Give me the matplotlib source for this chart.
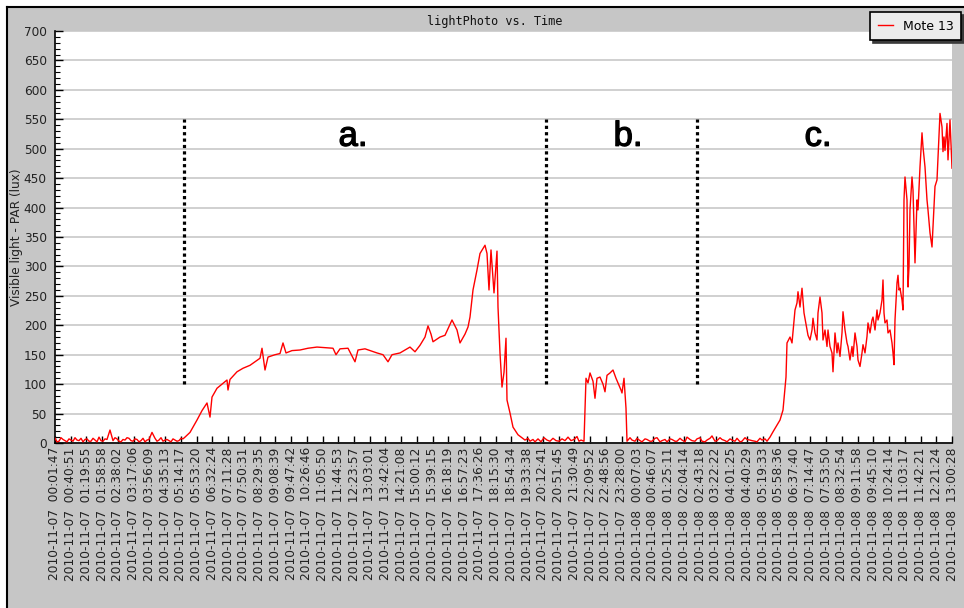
import matplotlib
matplotlib.use("Agg")
import matplotlib.pyplot as plt
import matplotlib.patheffects as pe
from matplotlib.patches import Rectangle
from matplotlib.lines import Line2D
import numpy as np

# tick labels (one every ~16 readings)
tick_labels = [
    "2010-11-07  00:01:47", "2010-11-07  00:40:51", "2010-11-07  01:19:55", "2010-11-07  01:58:58",
    "2010-11-07  02:38:02", "2010-11-07  03:17:06", "2010-11-07  03:56:09", "2010-11-07  04:35:13",
    "2010-11-07  05:14:17", "2010-11-07  05:53:20", "2010-11-07  06:32:24", "2010-11-07  07:11:28",
    "2010-11-07  07:50:31", "2010-11-07  08:29:35", "2010-11-07  09:08:39", "2010-11-07  09:47:42",
    "2010-11-07  10:26:46", "2010-11-07  11:05:50", "2010-11-07  11:44:53", "2010-11-07  12:23:57",
    "2010-11-07  13:03:01", "2010-11-07  13:42:04", "2010-11-07  14:21:08", "2010-11-07  15:00:12",
    "2010-11-07  15:39:15", "2010-11-07  16:18:19", "2010-11-07  16:57:23", "2010-11-07  17:36:26",
    "2010-11-07  18:15:30", "2010-11-07  18:54:34", "2010-11-07  19:33:38", "2010-11-07  20:12:41",
    "2010-11-07  20:51:45", "2010-11-07  21:30:49", "2010-11-07  22:09:52", "2010-11-07  22:48:56",
    "2010-11-07  23:28:00", "2010-11-08  00:07:03", "2010-11-08  00:46:07", "2010-11-08  01:25:11",
    "2010-11-08  02:04:14", "2010-11-08  02:43:18", "2010-11-08  03:22:22", "2010-11-08  04:01:25",
    "2010-11-08  04:40:29", "2010-11-08  05:19:33", "2010-11-08  05:58:36", "2010-11-08  06:37:40",
    "2010-11-08  07:14:47", "2010-11-08  07:53:50", "2010-11-08  08:32:54", "2010-11-08  09:11:58",
    "2010-11-08  09:45:10", "2010-11-08  10:24:14", "2010-11-08  11:03:17", "2010-11-08  11:42:21",
    "2010-11-08  12:21:24", "2010-11-08  13:00:28",
]
n_readings = 897

# reading number / light value (lux)
sample = [
    0, 2, 4, 6, 8, 10, 12, 14, 16, 18, 20, 22, 24, 26, 28, 30, 32, 34, 36, 38, 40, 42, 44, 46, 48, 50,
    52, 55, 58, 60, 62, 64, 66, 68, 70, 72, 74, 76, 78, 80, 82, 84, 86, 88, 90, 92, 94, 97,
    100, 102, 104, 106, 108, 110, 112, 114, 116, 118, 120, 122, 124, 126, 128,
    130, 135, 142, 147, 152, 155, 157, 162, 167, 172, 173, 175, 182, 188, 195, 200, 205, 207, 210, 213,
    220, 225, 228, 231, 237, 245, 253, 262, 270, 278, 281, 285, 293, 300, 303, 310, 317, 322, 328, 333,
    337, 345, 350, 355, 360, 365, 370, 373, 376, 378, 385, 390, 397, 402, 405, 410, 413, 415, 418, 422,
    425, 430, 432, 434, 436, 439, 442, 443, 445, 447, 449, 451, 452, 455, 458, 463, 470,
    473, 475, 478, 480, 483, 486, 489, 492, 495, 498, 501, 504, 507, 510, 513, 516, 519, 522, 524, 526, 529,
    531, 533, 535, 538, 540, 542, 545, 548, 550, 552, 555, 558, 561, 563, 566, 567, 569, 571, 572,
    575, 577, 580, 582, 585, 587, 590, 592, 595, 597, 600, 602, 605, 607, 610, 612, 615, 617, 620, 622,
    625, 627, 630, 632, 635, 637, 640, 642, 645, 647, 650, 652, 655, 657, 660, 662, 665, 667, 670, 672,
    675, 677, 680, 682, 685, 687, 690, 692, 695, 697, 700, 702, 705, 707, 710, 712,
    715, 718, 725, 728, 731, 732, 735, 737, 738, 740, 742, 743, 745, 747, 749, 752, 753, 755, 757, 758,
    760, 762, 763, 765, 767, 768, 770, 772, 773, 775, 777, 778, 780, 782, 783, 785, 787, 788, 790, 792,
    793, 795, 797, 798, 800, 802, 803, 805, 807, 808, 810, 812, 813, 815, 817, 818, 820, 822, 823, 825,
    827, 828, 829, 830, 832, 833, 835, 837, 838, 839, 840, 842, 843, 844, 845, 847, 848, 849, 850, 852,
    853, 854, 855, 857, 858, 860, 862, 863, 865, 867, 868, 870, 872, 873, 875, 877, 878, 880, 882, 883,
    885, 887, 888, 889, 890, 892, 893, 895, 897,
]
lux = [
    8, 2, 3, 9, 6, 4, 2, 7, 5, 3, 9, 5, 4, 8, 2, 6, 7, 3, 3, 8, 5, 2, 10, 4, 3, 7,
    6, 22, 4, 9, 7, 3, 2, 6, 5, 9, 8, 4, 3, 7, 6, 2, 4, 8, 2, 5, 6, 18,
    8, 3, 5, 9, 3, 5, 6, 4, 2, 7, 5, 3, 4, 8, 7,
    10, 18, 39, 55, 68, 44, 78, 93, 100, 107, 90, 108, 121, 127, 132, 138, 144, 161, 124, 146,
    150, 152, 170, 153, 157, 158, 161, 163, 162, 161, 150, 160, 161, 138, 158, 160, 156, 153, 150, 138,
    150, 153, 158, 163, 155, 166, 180, 199, 185, 172, 180, 183, 209, 192, 170, 185, 197, 214, 260, 294,
    322, 336, 322, 260, 328, 255, 326, 231, 153, 95, 120, 178, 73, 51, 27, 14, 5,
    8, 3, 6, 2, 7, 2, 9, 5, 3, 8, 4, 3, 7, 4, 10, 4, 6, 11, 3, 5, 3,
    110, 102, 119, 105, 76, 110, 112, 100, 87, 115, 119, 124, 110, 102, 90, 85, 110, 59, 3,
    9, 5, 3, 8, 4, 2, 7, 6, 3, 3, 8, 9, 2, 4, 6, 2, 7, 6, 3, 3,
    8, 5, 2, 10, 6, 4, 3, 7, 9, 3, 2, 5, 8, 12, 3, 4, 9, 6, 4, 2,
    7, 5, 3, 8, 2, 3, 9, 6, 5, 4, 3, 2, 8, 5, 7, 3,
    10, 19, 39, 56, 112, 170, 180, 170, 189, 226, 238, 257, 231, 263, 221, 192, 183, 175, 192, 212,
    187, 175, 221, 248, 221, 175, 192, 164, 192, 164, 153, 121, 187, 153, 170, 147, 187, 223, 192, 170,
    164, 141, 164, 147, 187, 164, 141, 130, 153, 167, 153, 181, 204, 187, 209, 214, 192, 226, 209, 221,
    243, 277, 221, 204, 209, 187, 192, 170, 153, 133, 209, 272, 285, 260, 263, 243, 226, 413, 452, 413,
    265, 299, 396, 452, 430, 306, 413, 396, 469, 527, 503, 469, 413, 396, 357, 333, 368, 436, 447, 486,
    560, 537, 495, 520, 497, 543, 481, 549, 467,
]

# phase boundaries and labels
boundaries = [129, 491, 642]
phase_names = ["a.", "b.", "c."]
phase_centers = [298, 573, 763]

W, H = 964, 608
gray = "#c6c6c6"
fig = plt.figure(figsize=(W / 100, H / 100), dpi=100)
fig.patch.set_facecolor("white")

# window frame
fig.patches.append(Rectangle((7 / W, 0), 1, 1 - 7 / H, transform=fig.transFigure,
                             facecolor=gray, edgecolor="none", zorder=-10))
fig.lines.append(Line2D([6.5 / W, 6.5 / W], [0, 1 - 6.5 / H], transform=fig.transFigure,
                        color="black", lw=1.5))
fig.lines.append(Line2D([6.5 / W, 1], [1 - 6.5 / H, 1 - 6.5 / H], transform=fig.transFigure,
                        color="black", lw=1.5))

ax = fig.add_axes([55 / W, 1 - 443 / H, 897 / W, 412 / H])
ax.set_facecolor("white")

ax.plot(sample, lux, color="red", lw=1.0, label="Mote 13", zorder=3)

for b in boundaries:
    ax.plot([b, b], [100, 550], color="black", lw=2.3, linestyle=(0, (1, 1)), zorder=4)
for name, c in zip(phase_names, phase_centers):
    ax.text(c, 505, name, fontsize=25, ha="center", va="baseline",
            family="Liberation Sans", color="black",
            path_effects=[pe.withStroke(linewidth=0.9, foreground="black")])

ax.set_xlim(0, n_readings)
ax.set_ylim(0, 700)
ax.set_yticks(np.arange(0, 701, 50))
ax.set_yticks(np.arange(0, 701, 10), minor=True)
ax.yaxis.grid(True, color="#c8c8c8", lw=1.2)
ax.set_axisbelow(True)
ax.set_xticks(np.linspace(0, n_readings, len(tick_labels)))
ax.set_xticklabels(tick_labels, rotation=90, fontsize=8.8, color="#222222")
for t in ax.get_yticklabels():
    t.set_fontsize(8.7)
    t.set_color("#222222")

ax.tick_params(axis="y", which="major", direction="in", length=6, width=1, pad=6)
ax.tick_params(axis="y", which="minor", direction="in", length=3.5, width=0.8)
ax.tick_params(axis="x", which="major", direction="in", length=5, width=1, pad=3)
ax.spines["top"].set_visible(False)
ax.spines["right"].set_visible(False)
ax.spines["left"].set_linewidth(1.2)
ax.spines["bottom"].set_linewidth(1.2)

fig.text(495 / W, 1 - 22 / H, "lightPhoto vs. Time", family="DejaVu Sans Mono",
         fontsize=8.6, ha="center", va="center", color="#111111")
fig.text(17 / W, 1 - 237 / H, "Visible light - PAR (lux)", rotation=90,
         fontsize=8.7, ha="center", va="center", color="#222222")

leg = ax.legend(loc="upper right", bbox_to_anchor=(961 / W, 1 - 12 / H),
                bbox_transform=fig.transFigure, borderaxespad=0, fancybox=False,
                shadow={"color": "#3a3a3a", "alpha": 1, "ox": 2, "oy": -2}, edgecolor="black",
                facecolor="#ececec", framealpha=1, handlelength=1.2, fontsize=9,
                borderpad=0.6, handletextpad=0.8)
leg.get_frame().set_linewidth(1.2)

fig.savefig("out.png", dpi=100, facecolor=fig.get_facecolor())
